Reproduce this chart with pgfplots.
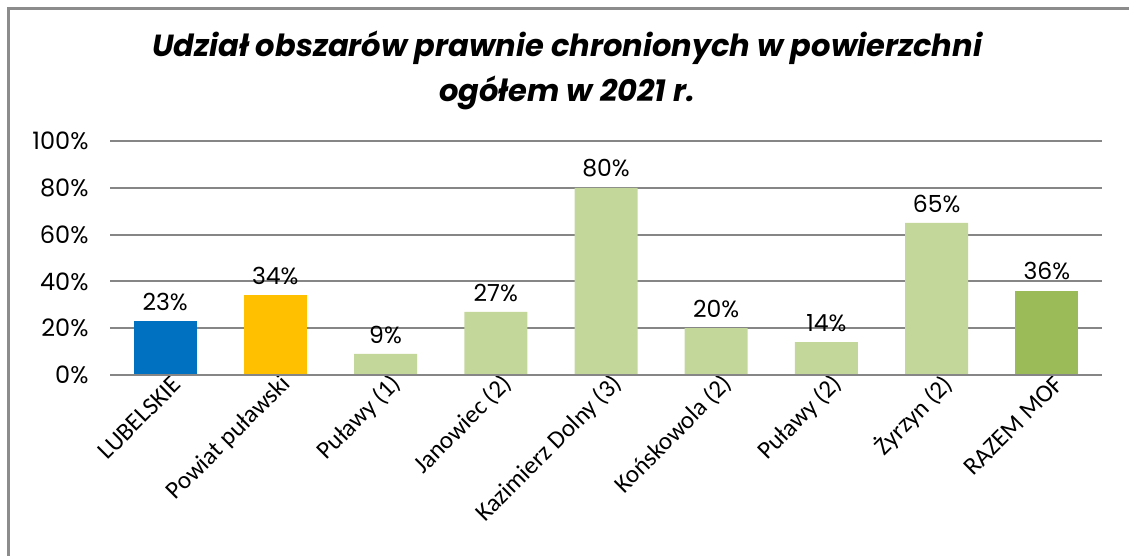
\documentclass[border=0pt]{standalone}
\usepackage{fontspec}
\setmainfont{Carlito}
\newfontfamily\geo{Poppins}
\usepackage{pgfplots}
\pgfplotsset{compat=1.18}
\definecolor{cblue}{HTML}{0070C0}
\definecolor{corange}{HTML}{FFC000}
\definecolor{clgreen}{HTML}{C4D79B}
\definecolor{cdgreen}{HTML}{9BBB59}
\definecolor{gridgray}{HTML}{868686}
\definecolor{framegray}{HTML}{8C8C8C}
\begin{document}
\begin{tikzpicture}[x=1pt,y=1pt]
\path[use as bounding box] (0,0) rectangle (1129,-556);
\draw[framegray,line width=2.5pt] (8.5,-560) -- (8.5,-8.5) -- (1135,-8.5);
\node[align=center,font={\geo\bfseries\itshape\fontsize{30.5}{45}\selectfont}] at (567,-70)
  {Udział obszarów prawnie chronionych w powierzchni\\ogółem w 2021 r.};
\begin{axis}[
  at={(110pt,-375pt)}, anchor=south west,
  scale only axis, width=992pt, height=234pt,
  xmin=-0.5, xmax=8.5, ymin=0, ymax=100,
  axis line style={draw=none},
  ytick={0,20,40,60,80,100},
  yticklabel={\pgfmathprintnumber{\tick}\%},
  yticklabel style={font={\geo\fontsize{24}{26}\selectfont},xshift=-18pt},
  /pgf/number format/assume math mode=true,
  ymajorgrids, grid style={gridgray,line width=2pt},
  major tick length=0pt,
  xtick={0,...,8},
  xticklabels={LUBELSKIE,Powiat puławski,Puławy (1),Janowiec (2),Kazimierz Dolny (3),Końskowola (2),Puławy (2),Żyrzyn (2),RAZEM MOF},
  xticklabel style={font={\fontsize{25}{28}\selectfont},rotate=45,anchor=east,xshift=8pt,yshift=-12pt},
  ybar, bar width=63pt, bar shift=0pt,
  nodes near coords={\pgfmathprintnumber{\pgfplotspointmeta}\%},
  nodes near coords style={font={\geo\fontsize{23.5}{26}\selectfont},yshift=7pt,/pgf/number format/assume math mode=true},
  clip=false,
]
\addplot[draw=none,fill=cblue] coordinates {(0,23)};
\addplot[draw=none,fill=corange] coordinates {(1,34)};
\addplot[draw=none,fill=clgreen] coordinates {(2,9) (3,27) (4,80) (5,20) (6,14) (7,65)};
\addplot[draw=none,fill=cdgreen] coordinates {(8,36)};
\draw[gridgray,line width=2pt] (axis cs:-0.5,0) -- (axis cs:8.5,0);
\end{axis}
\end{tikzpicture}
\end{document}
